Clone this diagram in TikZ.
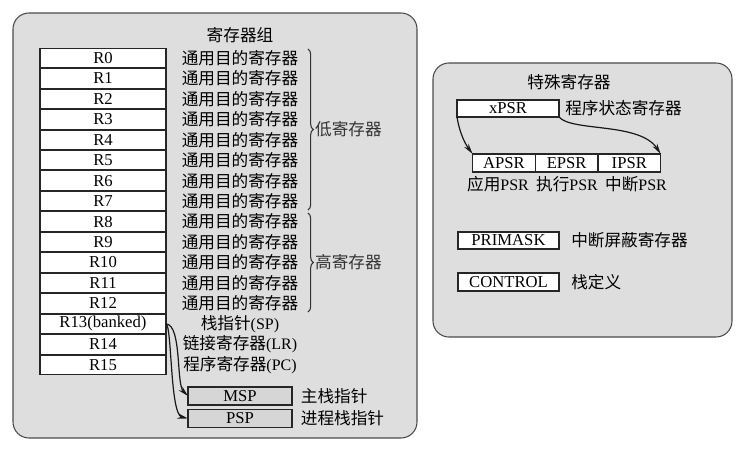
\documentclass[tikz,border=0pt]{standalone}
\usepackage{fontspec}
\setmainfont{Liberation Serif}
\newfontfamily\cjk[Scale=1.04]{Noto Sans CJK SC}
\usepackage{xcolor}
\usepackage{tikz}
\usetikzlibrary{positioning, arrows.meta, decorations.pathreplacing}
\definecolor{panelgray}{gray}{0.87}
\definecolor{boxgray}{gray}{0.84}

\begin{document}
\begin{tikzpicture}[x=0.75pt, y=-0.75pt,
      arr/.style={-{Stealth[length=8pt, width=4pt]}, line width=0.9pt,
          black!90},
      lbl/.style={draw=none, fill=none, font=\fontsize{12}{14}\selectfont\cjk,
          inner sep=1pt},
      panel/.style={draw=black!70, fill=panelgray, rounded corners=12pt,
          line width=0.8pt},
      regbox/.style={rectangle, draw=black!85, fill=white, line width=0.8pt,
          outer sep=0pt, inner sep=0pt, minimum width=94.5pt,
          minimum height=14.6pt, font=\fontsize{12.5}{14}\selectfont},
      brc/.style={decorate, decoration={brace, amplitude=4pt}, thick,
          black!80},
    ]
    \useasboundingbox (0,0) rectangle (746,452);

    %% ── PANELS ──────────────────────────────────────────────────────────────
    \draw[panel] (13,13) rectangle (417,438);
    \draw[panel] (433,63) rectangle (732,337);

    %% ── REGISTER BANK ───────────────────────────────────────────────────────
    \node[lbl] at (240, 35) (banktitle) {寄存器组};

    \node[regbox] at (103,  58.0) (r0)  {R0};
    \node[regbox] at (103,  78.5) (r1)  {R1};
    \node[regbox] at (103,  98.9) (r2)  {R2};
    \node[regbox] at (103, 119.4) (r3)  {R3};
    \node[regbox] at (103, 139.8) (r4)  {R4};
    \node[regbox] at (103, 160.3) (r5)  {R5};
    \node[regbox] at (103, 180.7) (r6)  {R6};
    \node[regbox] at (103, 201.2) (r7)  {R7};
    \node[regbox] at (103, 221.6) (r8)  {R8};
    \node[regbox] at (103, 242.1) (r9)  {R9};
    \node[regbox] at (103, 262.5) (r10) {R10};
    \node[regbox] at (103, 283.0) (r11) {R11};
    \node[regbox] at (103, 303.4) (r12) {R12};
    \node[regbox] at (103, 323.9) (r13) {R13(banked)};
    \node[regbox] at (103, 344.3) (r14) {R14};
    \node[regbox] at (103, 364.8) (r15) {R15};

    \node[lbl] at (240,  58.0) (g0)  {通用目的寄存器};
    \node[lbl] at (240,  78.5) (g1)  {通用目的寄存器};
    \node[lbl] at (240,  98.9) (g2)  {通用目的寄存器};
    \node[lbl] at (240, 119.4) (g3)  {通用目的寄存器};
    \node[lbl] at (240, 139.8) (g4)  {通用目的寄存器};
    \node[lbl] at (240, 160.3) (g5)  {通用目的寄存器};
    \node[lbl] at (240, 180.7) (g6)  {通用目的寄存器};
    \node[lbl] at (240, 201.2) (g7)  {通用目的寄存器};
    \node[lbl] at (240, 221.6) (g8)  {通用目的寄存器};
    \node[lbl] at (240, 242.1) (g9)  {通用目的寄存器};
    \node[lbl] at (240, 262.5) (g10) {通用目的寄存器};
    \node[lbl] at (240, 283.0) (g11) {通用目的寄存器};
    \node[lbl] at (240, 303.4) (g12) {通用目的寄存器};
    \node[lbl] at (240, 323.9) (sp)  {栈指针{\rmfamily (SP)}};
    \node[lbl] at (240, 344.3) (lr)  {链接寄存器{\rmfamily (LR)}};
    \node[lbl] at (240, 364.8) (pc)  {程序寄存器{\rmfamily (PC)}};

    %% ── BRACES ──────────────────────────────────────────────────────────────
    \draw[brc] (308, 49) -- (308, 210)
      node[lbl, midway, right=4pt] (lowgrp) {低寄存器};
    \draw[brc] (308, 213) -- (308, 312)
      node[lbl, midway, right=4pt] (highgrp) {高寄存器};

    %% ── BANKED STACK POINTERS ───────────────────────────────────────────────
    \node[regbox, fill=boxgray, minimum width=78pt, minimum height=13.5pt]
      at (240, 396) (msp) {MSP};
    \node[regbox, fill=boxgray, minimum width=78pt, minimum height=13.5pt]
      at (240, 418.5) (psp) {PSP};
    \node[lbl, right=5.5pt of msp] (mspl) {主栈指针};
    \node[lbl, right=5.5pt of psp] (pspl) {进程栈指针};

    %% ── SPECIAL REGISTERS ───────────────────────────────────────────────────
    \node[lbl] at (569, 82) (spectitle) {特殊寄存器};

    \node[regbox, minimum width=76.5pt, minimum height=12.75pt]
      at (508, 108.5) (xpsr) {xPSR};
    \node[lbl, right=3.5pt of xpsr] (xpsrl) {程序状态寄存器};

    \node[regbox, minimum width=47pt, minimum height=13.5pt]
      at (504, 163) (apsr) {APSR};
    \node[regbox, minimum width=47pt, minimum height=13.5pt,
      right=0pt of apsr] (epsr) {EPSR};
    \node[regbox, minimum width=47pt, minimum height=13.5pt,
      right=0pt of epsr] (ipsr) {IPSR};
    \node[lbl] at (498, 184) (apsrl) {应用{\rmfamily PSR}};
    \node[lbl] at (567, 184) (epsrl) {执行{\rmfamily PSR}};
    \node[lbl] at (636, 184) (ipsrl) {中断{\rmfamily PSR}};

    \node[regbox, minimum width=75.75pt, minimum height=12.75pt]
      at (508.5, 240.5) (primask) {PRIMASK};
    \node[lbl, right=8pt of primask] (primaskl) {中断屏蔽寄存器};
    \node[regbox, minimum width=75.75pt, minimum height=13.5pt]
      at (508.5, 282) (control) {CONTROL};
    \node[lbl, right=8pt of control] (controll) {栈定义};

    %% ── ARROWS ──────────────────────────────────────────────────────────────
    \draw[arr] (r13.east) .. controls (182,325) and (176,384) .. (msp.west);
    \draw[arr] (r13.east) .. controls (172,326) and (170,414) .. (psp.west);
    \draw[arr] (xpsr.south west) .. controls (460,135) and (466,145)
      .. (apsr.north west);
    \draw[arr] (xpsr.south east) .. controls (572,132) and (640,122)
      .. (ipsr.north east);

  \end{tikzpicture}
\end{document}
